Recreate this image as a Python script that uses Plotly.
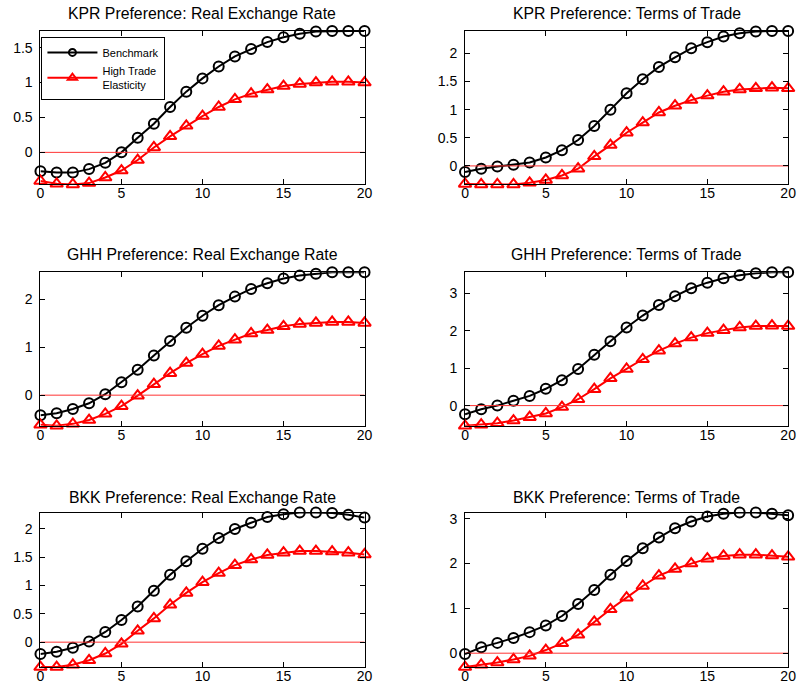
import plotly.graph_objects as go

W, H = 805, 693
periods = list(range(21))

titles = [
    "KPR Preference: Real Exchange Rate",
    "KPR Preference: Terms of Trade",
    "GHH Preference: Real Exchange Rate",
    "GHH Preference: Terms of Trade",
    "BKK Preference: Real Exchange Rate",
    "BKK Preference: Terms of Trade",
]
series_names = ["Benchmark", "High Trade<br>Elasticity"]

kpr_rer_bench = [-0.27, -0.29, -0.29, -0.24, -0.15, 0.00, 0.21, 0.41, 0.65, 0.87, 1.06,
                 1.23, 1.375, 1.48, 1.58, 1.65, 1.70, 1.73, 1.74, 1.74, 1.74]
kpr_rer_high = [-0.41, -0.45, -0.46, -0.44, -0.36, -0.26, -0.11, 0.07, 0.23, 0.38, 0.52,
                0.65, 0.76, 0.84, 0.90, 0.95, 0.98, 1.00, 1.01, 1.01, 1.00]
kpr_tot_bench = [-0.11, -0.05, -0.01, 0.02, 0.06, 0.15, 0.28, 0.46, 0.71, 1.00, 1.29,
                 1.54, 1.76, 1.93, 2.09, 2.20, 2.30, 2.36, 2.39, 2.40, 2.40]
kpr_tot_high = [-0.32, -0.33, -0.33, -0.33, -0.30, -0.25, -0.17, -0.05, 0.17, 0.37, 0.59,
                0.77, 0.95, 1.07, 1.17, 1.25, 1.32, 1.36, 1.38, 1.39, 1.38]
ghh_rer_bench = [-0.42, -0.38, -0.29, -0.17, 0.02, 0.27, 0.53, 0.83, 1.13, 1.41, 1.66,
                 1.88, 2.06, 2.22, 2.34, 2.44, 2.50, 2.54, 2.57, 2.57, 2.57]
ghh_rer_high = [-0.62, -0.64, -0.60, -0.52, -0.39, -0.23, -0.01, 0.23, 0.46, 0.67, 0.86,
                1.03, 1.16, 1.29, 1.36, 1.44, 1.49, 1.51, 1.53, 1.53, 1.51]
ghh_tot_bench = [-0.23, -0.10, 0.00, 0.13, 0.26, 0.45, 0.68, 0.98, 1.36, 1.72, 2.09,
                 2.41, 2.69, 2.93, 3.14, 3.29, 3.41, 3.49, 3.54, 3.57, 3.57]
ghh_tot_high = [-0.54, -0.51, -0.47, -0.40, -0.31, -0.21, -0.04, 0.17, 0.44, 0.73, 0.98,
                1.24, 1.47, 1.66, 1.82, 1.94, 2.02, 2.09, 2.13, 2.14, 2.13]
bkk_rer_bench = [-0.21, -0.17, -0.10, 0.01, 0.18, 0.39, 0.63, 0.91, 1.19, 1.43, 1.65,
                 1.84, 2.00, 2.11, 2.21, 2.26, 2.29, 2.29, 2.28, 2.25, 2.20]
bkk_rer_high = [-0.44, -0.44, -0.40, -0.32, -0.20, -0.03, 0.20, 0.42, 0.66, 0.87, 1.06,
                1.22, 1.36, 1.46, 1.54, 1.58, 1.61, 1.61, 1.60, 1.58, 1.55]
bkk_tot_bench = [-0.02, 0.13, 0.23, 0.34, 0.47, 0.62, 0.83, 1.10, 1.41, 1.75, 2.06,
                 2.34, 2.58, 2.79, 2.94, 3.05, 3.11, 3.14, 3.14, 3.11, 3.08]
bkk_tot_high = [-0.31, -0.26, -0.21, -0.14, -0.06, 0.07, 0.22, 0.41, 0.70, 0.98, 1.24,
                1.50, 1.73, 1.88, 2.00, 2.11, 2.17, 2.20, 2.20, 2.18, 2.15]

bench_series = [kpr_rer_bench, kpr_tot_bench, ghh_rer_bench, ghh_tot_bench, bkk_rer_bench, bkk_tot_bench]
high_series = [kpr_rer_high, kpr_tot_high, ghh_rer_high, ghh_tot_high, bkk_rer_high, bkk_tot_high]

y_ticks = [
    [0, 0.5, 1, 1.5],
    [0, 0.5, 1, 1.5, 2],
    [0, 1, 2],
    [0, 1, 2, 3],
    [0, 0.5, 1, 1.5, 2],
    [0, 1, 2, 3],
]
x_ticks = [0, 5, 10, 15, 20]

# panel boxes in pixels: (left, right) per column, (top, bottom) per row
cols_px = [(37, 366), (468, 796)]
rows_px = [(29, 183), (271, 425), (512, 667)]
title_y_px = [12, 253, 497]

BLACK, RED = "black", "#ff0000"
fig = go.Figure()
font_family = "Liberation Sans, Arial, Helvetica, sans-serif"

for i in range(6):
    r, c = divmod(i, 2)
    ax = "" if i == 0 else str(i + 1)
    xa, ya = "x" + ax, "y" + ax
    bench, high = bench_series[i], high_series[i]

    fig.add_trace(go.Scatter(
        x=periods, y=bench, xaxis=xa, yaxis=ya, mode="lines+markers",
        showlegend=False, cliponaxis=False,
        line=dict(color=BLACK, width=2),
        marker=dict(symbol="circle-open", size=10, color=BLACK, line=dict(width=2)),
    ))
    fig.add_trace(go.Scatter(
        x=periods, y=high, xaxis=xa, yaxis=ya, mode="lines+markers",
        showlegend=False, cliponaxis=False,
        line=dict(color=RED, width=2),
        marker=dict(symbol="triangle-up-open", size=11, color=RED, line=dict(width=2)),
    ))
    fig.add_trace(go.Scatter(
        x=[periods[0], periods[-1]], y=[0, 0], xaxis=xa, yaxis=ya, mode="lines",
        showlegend=False, hoverinfo="skip",
        line=dict(color="#ff3333", width=1),
    ))

    left, right = cols_px[c]
    top, bottom = rows_px[r]
    lo = min(min(bench), min(high))
    hi = max(max(bench), max(high))
    axis_common = dict(
        showline=True, linecolor="black", linewidth=1, mirror="ticks",
        ticks="inside", ticklen=5, tickcolor="black", showgrid=False, zeroline=False,
        tickfont=dict(family=font_family, size=14, color="black"),
    )
    fig.layout["xaxis" + ax] = dict(
        domain=[left / W, right / W], anchor=ya, range=[0, 20],
        tickvals=x_ticks, ticklabelstandoff=-4, **axis_common,
    )
    fig.layout["yaxis" + ax] = dict(
        domain=[1 - bottom / H, 1 - top / H], anchor=xa, range=[lo, hi],
        tickvals=y_ticks[i], ticklabelstandoff=4, **axis_common,
    )
    fig.add_annotation(
        x=(left + right) / 2 / W, y=1 - title_y_px[r] / H, xref="paper", yref="paper",
        text=titles[i], showarrow=False, xanchor="center", yanchor="middle",
        font=dict(family=font_family, size=15.8, color="black"),
    )

# legend entries with smaller symbols than the plotted markers
fig.add_trace(go.Scatter(
    x=[None], y=[None], mode="lines+markers", name=series_names[0],
    line=dict(color=BLACK, width=2),
    marker=dict(symbol="circle-open", size=7, color=BLACK, line=dict(width=2)),
))
fig.add_trace(go.Scatter(
    x=[None], y=[None], mode="lines+markers", name=series_names[1],
    line=dict(color=RED, width=2),
    marker=dict(symbol="triangle-up-open", size=8, color=RED, line=dict(width=2)),
))

fig.update_layout(
    width=W, height=H, margin=dict(l=0, r=0, t=0, b=0),
    paper_bgcolor="white", plot_bgcolor="white",
    legend=dict(
        x=38 / W, y=1 - 35 / H, xanchor="left", yanchor="top",
        bordercolor="black", borderwidth=1, bgcolor="white",
        font=dict(family=font_family, size=11, color="black"),
        tracegroupgap=0, itemwidth=50,
    ),
)

fig.write_html("out.html")
